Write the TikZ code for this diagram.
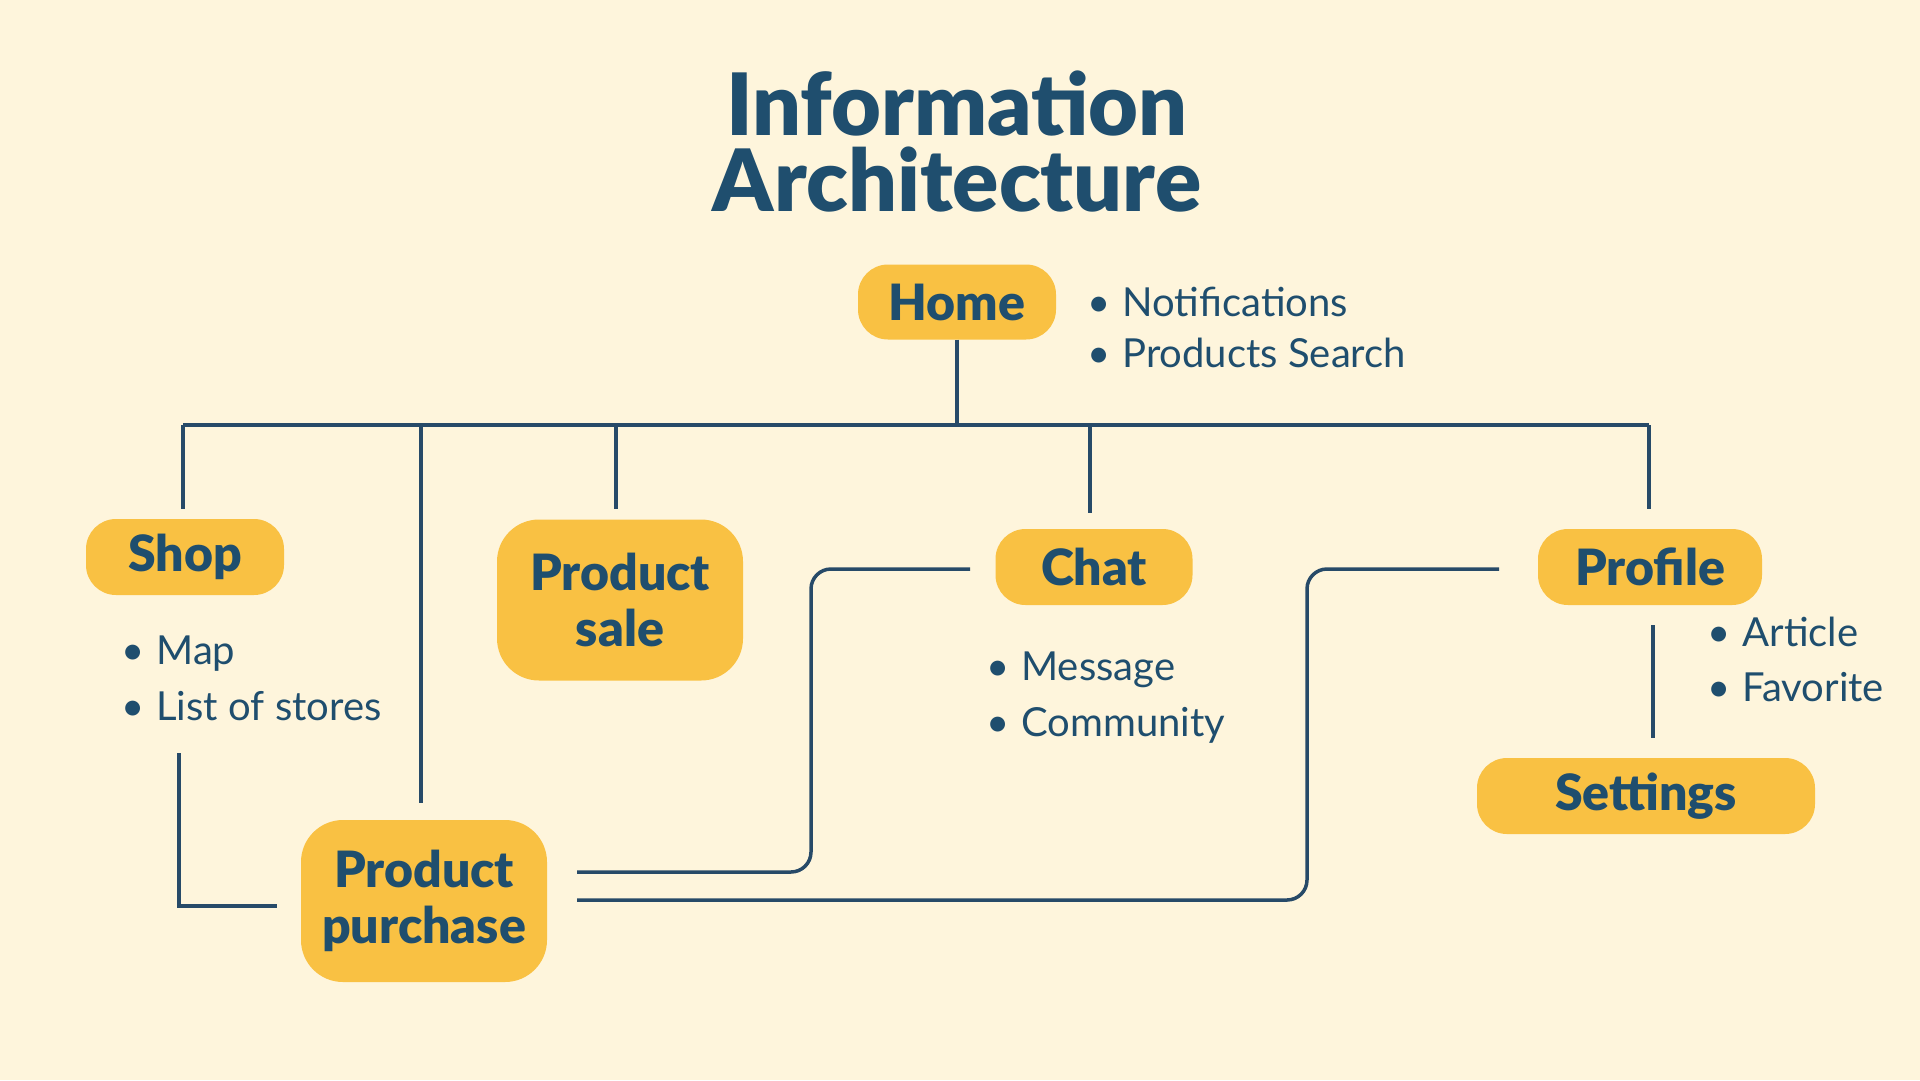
\documentclass[tikz,border=0pt]{standalone}
\usepackage{fontspec}
\setmainfont{Lato}
\newfontfamily\headfont{Lato Black}
\usetikzlibrary{calc}
\definecolor{bg}{HTML}{FEF5DC}
\definecolor{mustard}{HTML}{F9C143}
\definecolor{navy}{HTML}{1F4E6E}
\definecolor{wirecol}{HTML}{274A68}
\begin{document}
\begin{tikzpicture}[x=1pt,y=-1pt,
  box/.style={fill=mustard, text=navy, inner sep=0pt, align=center,
    font=\headfont\fontsize{50}{56}\selectfont},
  pill/.style={box, rounded corners=30pt},
  block/.style={box, rounded corners=42pt},
  item/.style={anchor=mid west, text=navy, inner sep=0pt,
    font=\fontsize{40}{48}\selectfont},
  heading/.style={anchor=base, text=navy, inner sep=0pt, align=center,
    font=\headfont\fontsize{86}{76}\selectfont},
  wire/.style={draw=wirecol, line width=3.5pt}
]
% canvas
\useasboundingbox (0,0) rectangle (1920,1080);
\path[fill=bg] (0,0) rectangle (1920,1080);

% title (two lines, one node; base = baseline of the last line)
\node[heading] (title) at (957,211) {Information\\Architecture};

% boxes
\node[pill, minimum width=198pt, minimum height=75pt] (home) at (957,302) {Home};
\node[pill, minimum width=198pt, minimum height=76pt] (shop) at (185,557) {Shop};
\node[block, minimum width=246pt, minimum height=161pt] (sale) at (620,600) {Product\\sale};
\node[pill, minimum width=197pt, minimum height=76pt] (chat) at (1094,567) {Chat};
\node[pill, minimum width=224pt, minimum height=76pt] (profile) at (1650,567) {Profile};
\node[pill, minimum width=338pt, minimum height=76pt] (settings) at (1646,796) {Settings};
\node[block, minimum width=246pt, minimum height=162pt] (purchase) at (424,901) {Product\\purchase};

% bullet lists
\node[item] (hn) at (1087,314) {•\hspace{12pt}Notifications};
\node[item] (hp) at (1087,365) {•\hspace{12pt}Products Search};
\node[item] (sm) at (121,662) {•\hspace{12pt}Map};
\node[item] (sl) at (121,718) {•\hspace{12pt}List of stores};
\node[item] (cm) at (986,678) {•\hspace{12pt}Message};
\node[item] (cc) at (986,734) {•\hspace{12pt}Community};
\node[item] (pa) at (1707,644) {•\hspace{12pt}Article};
\node[item] (pf) at (1707,699) {•\hspace{12pt}Favorite};

% bus from Home to its children
\coordinate (busL) at (183,425);
\coordinate (busR) at (1649,425);
\coordinate (busH) at (home.south |- busL);
\draw[wire] (home.south) -- (busH);
\draw[wire] (busL) -- (busR);
\coordinate (dShop) at (183,509);
\coordinate (dPurchase) at (421,803);
\coordinate (dSale) at (616,509);
\coordinate (dChat) at (1090,513);
\coordinate (dProfile) at (1649,509);
\draw[wire] (busL) -- (dShop);
\draw[wire] (dPurchase |- busL) -- (dPurchase);
\draw[wire] (dSale |- busL) -- (dSale);
\draw[wire] (dChat |- busL) -- (dChat);
\draw[wire] (busR) -- (dProfile);

% Shop to Product purchase
\coordinate (sA) at (179,753);
\coordinate (sB) at (277,906);
\draw[wire] (sA) |- (sB);

% Chat to Product purchase
\coordinate (cA) at (970,569);
\coordinate (cB) at (577,872);
\draw[wire, rounded corners=20pt] (cA) -- (811,569) -- (811,872) -- (cB);

% Profile to Product purchase
\coordinate (pA) at (1499,569);
\coordinate (pB) at (577,900);
\draw[wire, rounded corners=20pt] (pA) -- (1307,569) -- (1307,900) -- (pB);

% Profile to Settings
\coordinate (psA) at (1653,625);
\coordinate (psB) at (1653,738);
\draw[wire] (psA) -- (psB);
\end{tikzpicture}
\end{document}
